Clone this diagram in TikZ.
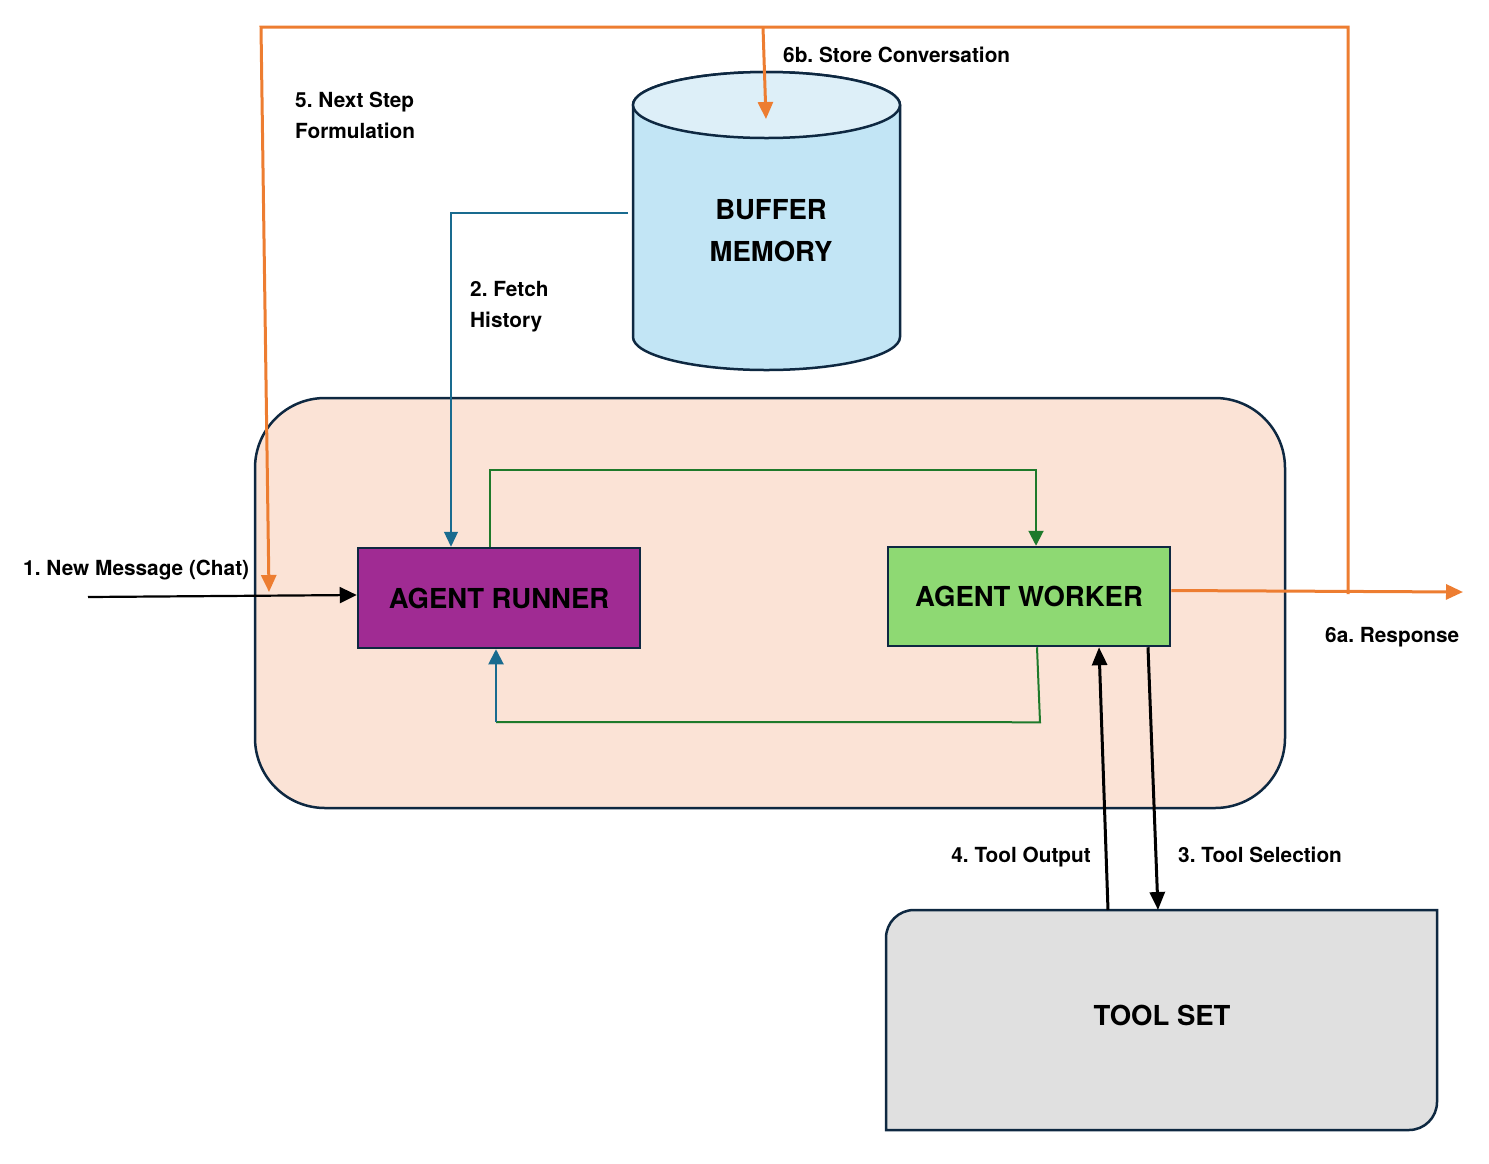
\documentclass[tikz,border=0pt]{standalone}
\usepackage{fontspec}
\setmainfont{TeX Gyre Heros}
\usetikzlibrary{arrows.meta}
\definecolor{orng}{HTML}{ED7D31}
\definecolor{navy}{HTML}{0E2841}
\definecolor{peach}{HTML}{FBE3D6}
\definecolor{purp}{HTML}{A02B93}
\definecolor{lgreen}{HTML}{8ED973}
\definecolor{dgreen}{HTML}{1E7A2B}
\definecolor{fblue}{HTML}{196B8F}
\definecolor{cylb}{HTML}{C2E5F5}
\definecolor{cylt}{HTML}{DDEFF8}
\definecolor{tgray}{HTML}{E0E0E0}
\frenchspacing
\begin{document}
\begin{tikzpicture}[x=1pt,y=-1pt,
  lbl/.style={font=\fontsize{20.8}{31}\selectfont\bfseries, inner sep=0pt, align=left},
  boxlbl/.style={font=\fontsize{27.5}{42}\selectfont\bfseries, inner sep=0pt, align=center},
  agentbox/.style={draw=navy, line width=2.5pt, minimum width=282pt, minimum height=100pt,
    font=\fontsize{27.5}{33}\selectfont\bfseries},
  oline/.style={draw=orng, line width=3pt, line join=miter},
  oarrow/.style={oline, -{Triangle[length=17pt,width=15pt]}},
  karrow/.style={draw=black, line width=3pt, -{Triangle[length=18pt,width=15pt]}},
  chatarrow/.style={draw=black, line width=2.2pt, -{Triangle[length=17pt,width=16pt]}},
  fetcharrow/.style={draw=fblue, line width=1.2pt, -{Triangle[length=15pt,width=14pt]}},
  bluearrow/.style={draw=fblue, line width=2pt, -{Triangle[length=15pt,width=15pt]}},
  gline/.style={draw=dgreen, line width=2pt},
  garrow/.style={gline, -{Triangle[length=15pt,width=15pt]}},
]
\useasboundingbox (0,0) rectangle (1489,1163);

% container
\node[draw=navy, line width=2.5pt, fill=peach, rounded corners=70pt,
  minimum width=1030pt, minimum height=410pt] (ctr) at (770,603) {};

% buffer memory cylinder
\path[fill=cylb, draw=navy, line width=2.5pt]
  (633,105) -- (633,337) arc[start angle=180, end angle=0, x radius=133.5, y radius=33]
  -- (900,105) arc[start angle=0, end angle=-180, x radius=133.5, y radius=33] -- cycle;
\draw[fill=cylt, draw=navy, line width=2.5pt] (766.5,105) ellipse[x radius=133.5, y radius=33];
\node[boxlbl] (bm) at (771,231) {BUFFER\\MEMORY};
\coordinate (bmtop) at (766,119);
\coordinate (fetchstart) at (628,213);

% tool set
\path[fill=tgray, draw=navy, line width=2.5pt]
  (886,1130) -- (886,938) arc[start angle=180, end angle=270, radius=28]
  -- (1437,910) -- (1437,1102) arc[start angle=0, end angle=90, radius=28] -- cycle;
\node[boxlbl] (ts) at (1162,1015) {TOOL SET};
\coordinate (tsout) at (1108,910);
\coordinate (tsin) at (1158,910);

% agents
\node[agentbox, fill=purp] (runner) at (499,598) {AGENT RUNNER};
\node[agentbox, fill=lgreen, minimum height=99pt] (worker) at (1029,596.5) {AGENT WORKER};

% 1. new message
\coordinate (chatstart) at (88,597);
\draw[chatarrow] (chatstart) -- ([yshift=3pt]runner.west);
\node[lbl, anchor=base west] (l1) at (23,575) {1. New Message (Chat)};

% 2. fetch history
\draw[fetcharrow] (fetchstart) -| ([xshift=-48pt]runner.north);
\node[lbl, anchor=base west] (l2) at (470,327) {2. Fetch\\History};

% green loop
\draw[garrow] ([xshift=-9pt]runner.north) -- ++(0,-77) -| ([xshift=7pt]worker.north);
\coordinate (loopbl) at (496,722);
\draw[gline] ([xshift=8pt]worker.south) -- ++(3,75) -- (loopbl);
\draw[bluearrow] (loopbl) -- (runner.south -| loopbl);

% tools
\draw[karrow] (tsout) -- ([xshift=70pt]worker.south);
\draw[karrow] ([xshift=119pt]worker.south) -- (tsin);
\node[lbl, anchor=base east] (l4) at (1091,862) {4. Tool Output};
\node[lbl, anchor=base west] (l3) at (1178,862) {3. Tool Selection};

% 6a response
\coordinate (respend) at (1463,592);
\draw[oarrow] ([yshift=6pt]worker.east) -- (respend);
\node[lbl, anchor=base west] (l6a) at (1325,642) {6a. Response};

% 5. next step formulation
\coordinate (tr) at (1348,27);
\coordinate (tl) at (261,27);
\coordinate (nsend) at (269,592);
\draw[oarrow] (1348,594) -- (tr) -- (tl) -- (nsend);
\node[lbl, anchor=base west] (l5) at (295,138) {5. Next Step\\Formulation};

% 6b store conversation
\draw[oarrow] (763,27) -- (bmtop);
\node[lbl, anchor=base west] (l6b) at (783,62) {6b. Store Conversation};
\end{tikzpicture}
\end{document}
